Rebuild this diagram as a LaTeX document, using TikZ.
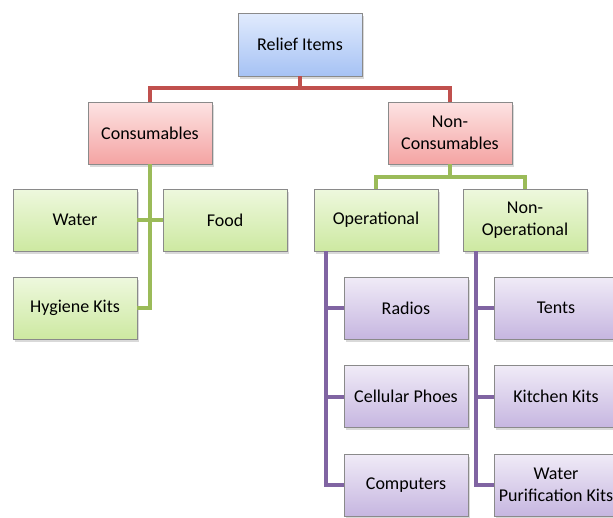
\documentclass[tikz,border=0pt]{standalone}
\usepackage{fontspec}
\setmainfont{Carlito}
\usetikzlibrary{shadows,calc}

\definecolor{lnred}{HTML}{C0504D}
\definecolor{lngreen}{HTML}{9BBB59}
\definecolor{lnpurple}{HTML}{8064A2}
\definecolor{boxedge}{HTML}{8A8A8A}
\definecolor{bluetop}{HTML}{E1EBFD}
\definecolor{bluebot}{HTML}{A6C2F4}
\definecolor{redtop}{HTML}{FDE3E3}
\definecolor{redbot}{HTML}{F4A4A3}
\definecolor{greentop}{HTML}{EEF8DE}
\definecolor{greenbot}{HTML}{CDE9A1}
\definecolor{purpletop}{HTML}{F0EBF7}
\definecolor{purplebot}{HTML}{C6B6E0}

\begin{document}
\begin{tikzpicture}[x=1pt,y=-1pt,
  box/.style={draw=boxedge, line width=0.8pt, minimum width=124pt, minimum height=62pt,
    inner sep=2pt, align=center, font=\fontsize{18}{21.5}\selectfont,
    drop shadow={shadow xshift=1.5pt, shadow yshift=-2.5pt, opacity=0.3}},
  bluebox/.style={box, top color=bluetop, bottom color=bluebot},
  redbox/.style={box, top color=redtop, bottom color=redbot},
  greenbox/.style={box, top color=greentop, bottom color=greenbot},
  purplebox/.style={box, top color=purpletop, bottom color=purplebot},
  link/.style={line width=4pt},
]
\clip (0,0) rectangle (613,517);
\useasboundingbox (0,0) rectangle (613,517);

% top levels
\node[bluebox, minimum height=63pt] (rel) at (300,44.5) {Relief Items};
\node[redbox] (cons) at (150,133) {Consumables};
\node[redbox] (noncons) at (450,133) {Non-\\Consumables};

% consumables
\node[greenbox] (water) at (75,220) {Water};
\node[greenbox] (food) at (225,220) {Food};
\node[greenbox] (hyg) at (75,308) {Hygiene Kits};

% non-consumables
\node[greenbox] (op) at (376,220) {Operational};
\node[greenbox] (nonop) at (525,220) {Non-\\Operational};

\node[purplebox] (radios) at (406,308) {Radios};
\node[purplebox] (cell) at (406,396.5) {Cellular Phoes};
\node[purplebox] (comp) at (406,485) {Computers};

\node[purplebox] (tents) at (556,308) {Tents};
\node[purplebox] (kitchen) at (556,396.5) {Kitchen Kits};
\node[purplebox] (wpk) at (556,485) {Water\\Purification Kits};

% red connectors
\coordinate (rj) at ($(rel.south)+(0,12)$);
\draw[link, lnred] (rel.south) -- (rj) -| (cons.north);
\draw[link, lnred] (rj) -| (noncons.north);

% green connectors, left
\draw[link, lngreen] (cons.south) -- (cons.south |- hyg) -- (hyg.east);
\draw[link, lngreen] (water.east) -- (food.west);

% green connectors, right
\coordinate (gj) at ($(noncons.south)+(0,13)$);
\draw[link, lngreen] (noncons.south) -- (gj) -| (op.north);
\draw[link, lngreen] (gj) -| (nonop.north);

% purple connectors
\coordinate (pl) at ($(op.south west)+(12,0)$);
\draw[link, lnpurple] (pl) -- (pl |- comp) -- (comp.west);
\draw[link, lnpurple] (pl |- radios) -- (radios.west);
\draw[link, lnpurple] (pl |- cell) -- (cell.west);

\coordinate (pr) at ($(nonop.south west)+(13,0)$);
\draw[link, lnpurple] (pr) -- (pr |- wpk) -- (wpk.west);
\draw[link, lnpurple] (pr |- tents) -- (tents.west);
\draw[link, lnpurple] (pr |- kitchen) -- (kitchen.west);
\end{tikzpicture}
\end{document}
